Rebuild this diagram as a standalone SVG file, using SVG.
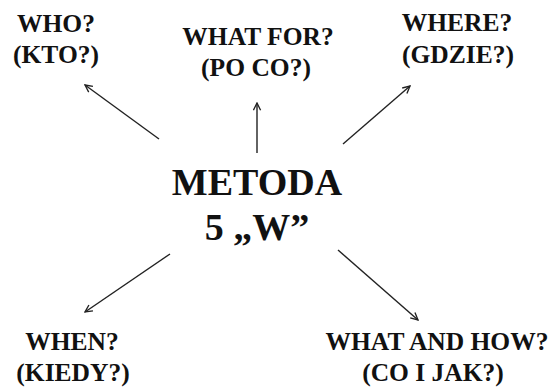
<svg xmlns="http://www.w3.org/2000/svg" width="553" height="387" viewBox="0 0 553 387">
<style>
.t{font-family:"Liberation Serif","Times New Roman",serif;font-weight:bold;font-size:25.5px;fill:#111;text-anchor:middle}
.c{font-size:38px}
.a{stroke:#222;stroke-width:1.4;fill:none;marker-end:url(#ah)}
</style>
<defs>
<marker id="ah" viewBox="0 0 10 10" refX="9" refY="5" markerWidth="9" markerHeight="9" markerUnits="userSpaceOnUse" orient="auto">
<path d="M1,1 L9,5 L1,9" fill="none" stroke="#222" stroke-width="1.5"/>
</marker>
</defs>
<rect width="553" height="387" fill="#fff"/>
<g id="center"><text class="t c" x="257" y="195">METODA</text><text class="t c" x="257" y="240">5 „W”</text></g>
<g id="who"><text class="t" x="56" y="32">WHO?</text><text class="t" x="56" y="63">(KTO?)</text></g>
<g id="whatfor"><text class="t" x="258" y="45">WHAT FOR?</text><text class="t" x="256" y="76">(PO CO?)</text></g>
<g id="where"><text class="t" x="457" y="31">WHERE?</text><text class="t" x="458" y="63">(GDZIE?)</text></g>
<g id="when"><text class="t" x="72" y="350">WHEN?</text><text class="t" x="73" y="381">(KIEDY?)</text></g>
<g id="whatandhow"><text class="t" x="437" y="350">WHAT AND HOW?</text><text class="t" x="433" y="381">(CO I JAK?)</text></g>
<g id="connectors">
<line class="a" x1="159" y1="139" x2="85" y2="85"/>
<line class="a" x1="257" y1="153" x2="257" y2="103"/>
<line class="a" x1="343" y1="144" x2="410" y2="86"/>
<line class="a" x1="170" y1="254" x2="85" y2="312"/>
<line class="a" x1="338" y1="250" x2="418" y2="320"/>
</g>
</svg>
